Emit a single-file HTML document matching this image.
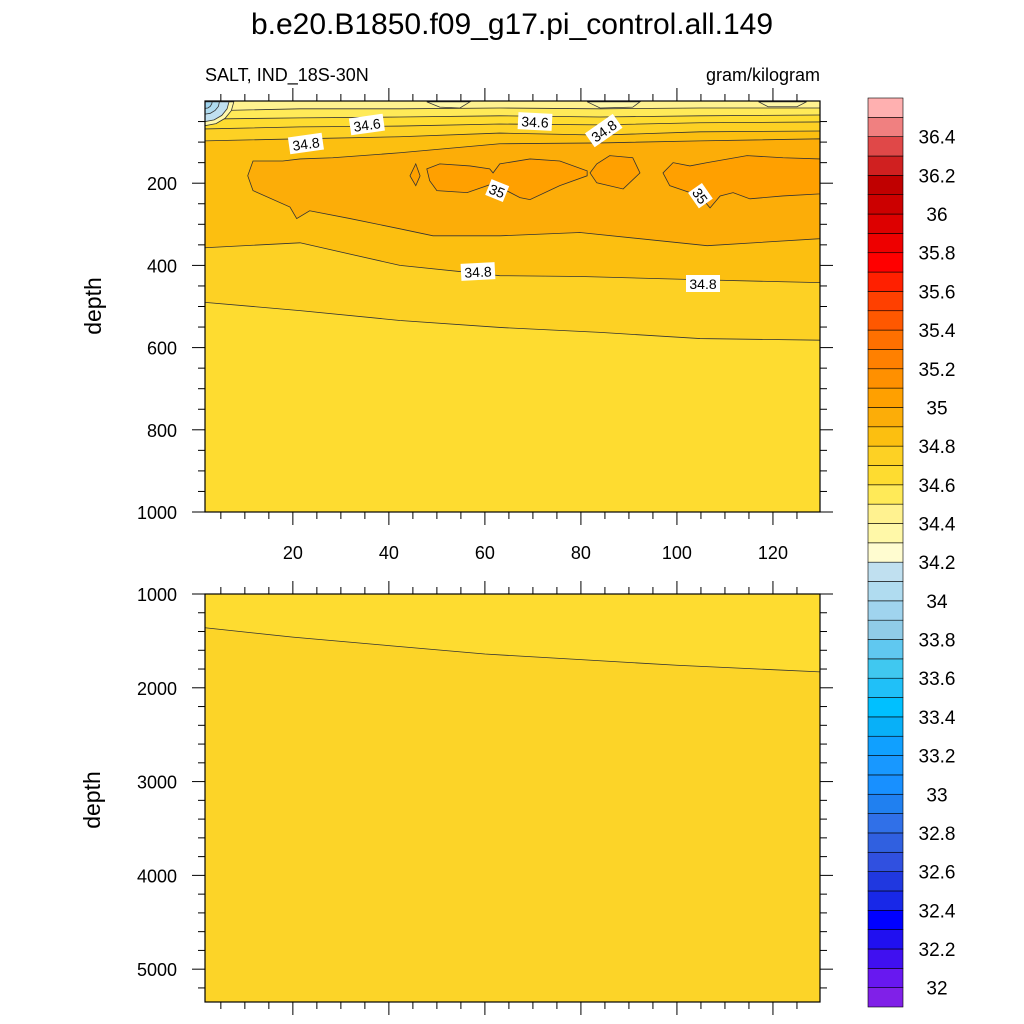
<!DOCTYPE html>
<html><head><meta charset="utf-8"><style>
body{margin:0;background:#fff;}
svg{display:block;font-family:"Liberation Sans",Arial,sans-serif;}
</style></head><body>
<svg id="chart" width="1024" height="1024" viewBox="0 0 1024 1024" xmlns="http://www.w3.org/2000/svg"></svg>
<script>
// ---- data (lon index, depth in m) ----
const levels = [31.9,32.0,32.1,32.2,32.3,32.4,32.5,32.6,32.7,32.8,32.9,33.0,33.1,33.2,33.3,33.4,33.5,33.6,33.7,33.8,33.9,34.0,34.1,34.2,34.3,34.4,34.5,34.6,34.7,34.8,34.9,35.0,35.1,35.2,35.3,35.4,35.5,35.6,35.7,35.8,35.9,36.0,36.1,36.2,36.3,36.4,36.5,36.6];
const levelColors = ["#8020e8","#6818f0","#4010f0","#2010f0","#0000ff","#1828e8","#2038e0","#3050e0","#3060e0","#3070e8","#2080f0","#1890ff","#1898ff","#10a0ff","#08b0f8","#00c0ff","#20c0f8","#40c8f0","#60c8f0","#90cce8","#a0d4ee","#b0dcf0","#c0e0f0","#fffcd0","#fff8a8","#fff290","#ffea58","#fedc30","#fdd124","#fcbf10","#fcad08","#ffa000","#ff9000","#ff8000","#ff7000","#ff5800","#ff4000","#ff2000","#ff0000","#ee0000","#dd0000","#cc0000","#c00000","#d02020","#e04848","#f08080","#ffb0b0"];
const cbLabels = ["32","32.2","32.4","32.6","32.8","33","33.2","33.4","33.6","33.8","34","34.2","34.4","34.6","34.8","35","35.2","35.4","35.6","35.8","36","36.2","36.4"];
const xTicks = [20,40,60,80,100,120];
const yTicksUpper = [200,400,600,800,1000];
const yTicksLower = [1000,2000,3000,4000,5000];

// upper panel: shallow isolines (surface-side), deep isolines
const lonLine = [1.7,21.5,42.3,63.1,84,104.8,129.8];
const shallow345 = [24,19,19,17,19,17,17];
const shallow346 = [44,41,39,36,39,36,34];
const shallow347 = [68,63,61,56,58,53,51];
const shallow348 = [97,92,87,78,83,75,73];
const deep348 = [357,345,400,425,427,435,442];
const deep347 = [490,510,534,551,563,578,582];
const lonDeep348 = [1.7,21.5,42.3,63.1,80,104.8,129.8];
// 34.9 tongue
const tongueLonTop = [10.6,11.7,17.9,21.5,28.3,42.3,63.1,84,104.8,129.8];
const tongueTop = [182,146,146,141,138,126,104,102,97,92];
const tongueLonBot = [129.8,106.3,79.8,63.1,49.2,42.3,31.9,23.5,20.8,19.4,11.7];
const tongueBot = [335,352,320,328,328,311,286,267,286,258,218];
// 35.0 patches
const p1Lon = [44.4,45.6,46.5,45.6];
const p1Dep = [182,153,182,206];
const p2Lon = [47.9,50.6,56.9,61,61.7,63.1,69.4,75.6,81.3,81.3,75.6,69.4,67.3,61.7,56.3,50,48.5];
const p2Dep = [165,153,158,165,175,153,141,146,170,182,206,240,235,201,223,218,194];
const p3Lon = [81.9,83.3,86,90.8,92.3,88.8,83.3];
const p3Dep = [175,153,133,138,175,214,199];
const p4Lon = [97.1,99.2,102.7,106.3,114.6,122.1,129.8,129.8,122.1,115.2,111.7,109,106.9,104.8,98.5];
const p4Dep = [175,150,158,150,133,138,141,226,231,238,223,231,260,231,206];
// surface fresh patches (34.3-34.4)
const sLonA = [47.9,50.6,54.8,56.9];
const sDepA = [2,15,17,2];
const sLonB = [81.3,84,90.8,92.3];
const sDepB = [2,17,15,2];
const sLonC = [117,119,125,127];
const sDepC = [2,14,14,2];
// corner fresh region (quarter-ellipse shapes)
const cornerLon = [[1.7,1.7,4.0,5.9,7.2,7.7],[1.7,1.7,3.6,5.2,6.3,6.7],[1.7,1.7,2.8,3.8,4.5,4.7],[1.7,1.7,2.3,2.8,3.1,3.2]];
const cornerDep = [[2,60,55,42,23,2],[2,50,46,35,19,2],[2,32,30,23,13,2],[2,18,17,13,7,2]];
const cornerLevelIdx = [24,22,21,20];
// lower panel isoline 34.7
const lonLower = [1.7,20,40,60,80,100,129.8];
const lower347 = [1360,1460,1550,1640,1700,1760,1830];

// ---- axes ----
const X0=205,X1=820, LON0=1.7, LON1=129.8;
const UT=101,UB=512, LT=594,LB=1002;
function xs(l){return X0+(l-LON0)*(X1-X0)/(LON1-LON0);}
function yu(d){return UT+d*(UB-UT)/1000;}
function yl(d){return LT+(d-1000)*(LB-LT)/4350;}
const svg=document.getElementById('chart');
const NS="http://www.w3.org/2000/svg";
function mk(tag,attrs,parent){const e=document.createElementNS(NS,tag);for(const k in attrs)e.setAttribute(k,attrs[k]);(parent||svg).appendChild(e);return e;}
function colorOf(lo){return levelColors[levels.findIndex(v=>Math.abs(v-lo)<1e-6)];}

// clip paths
const defs=mk('defs',{});
const cu=mk('clipPath',{id:'cu'},defs);mk('rect',{x:X0,y:UT,width:X1-X0,height:UB-UT},cu);
const cl=mk('clipPath',{id:'cl'},defs);mk('rect',{x:X0,y:LT,width:X1-X0,height:LB-LT},cl);

// ---- upper panel ----
const gU=mk('g',{'clip-path':'url(#cu)'});


mk('rect',{x:X0,y:UT,width:X1-X0,height:UB-UT,fill:colorOf(34.6)},gU);
function bandTo(lons,deps,fill,name,stroke){
  let d='M'+xs(lons[0])+','+UT;
  for(let i=0;i<lons.length;i++)d+=' L'+xs(lons[i])+','+yu(deps[i]);
  d+=' L'+xs(lons[lons.length-1])+','+UT+' Z';
  const p=mk('path',{d:d,fill:fill,stroke:'none'},gU);
  
  
  if(stroke){let l='M'+lons.map((v,i)=>xs(v)+','+yu(deps[i])).join(' L');const q=mk('path',{d:l,fill:'none',stroke:'#333','stroke-width':0.8},gU);}
}
function poly(lons,deps,fill,name,yf){
  const d='M'+lons.map((v,i)=>xs(v)+','+(yf||yu)(deps[i])).join(' L')+' Z';
  const p=mk('path',{d:d,fill:fill,stroke:'#333','stroke-width':0.8},gU);
  
  
}
bandTo(lonLine,deep347,colorOf(34.7),'band-347-348',true);
bandTo(lonDeep348,deep348,colorOf(34.8),'band-348-349',true);
poly(tongueLonTop.concat(tongueLonBot),tongueTop.concat(tongueBot),colorOf(34.9),'tongue-349');
poly(p1Lon,p1Dep,colorOf(35.0),'patch-35-a');
poly(p2Lon,p2Dep,colorOf(35.0),'patch-35-b');
poly(p3Lon,p3Dep,colorOf(35.0),'patch-35-c');
poly(p4Lon,p4Dep,colorOf(35.0),'patch-35-d');
bandTo(lonLine,shallow348,colorOf(34.7),'band-surface-347',true);
bandTo(lonLine,shallow347,colorOf(34.6),'band-surface-346',true);
bandTo(lonLine,shallow346,colorOf(34.5),'band-surface-345',true);
bandTo(lonLine,shallow345,colorOf(34.4),'band-surface-344',true);
poly(sLonA,sDepA,colorOf(34.3),'fresh-patch-a');
poly(sLonB,sDepB,colorOf(34.3),'fresh-patch-b');
poly(sLonC,sDepC,colorOf(34.3),'fresh-patch-c');
for(let i=0;i<cornerLon.length;i++){poly(cornerLon[i],cornerDep[i],levelColors[cornerLevelIdx[i]],'corner-fresh-'+i);}

// contour labels
const labels=[["34.8",306,144,-8],["34.6",367,125,-8],["34.6",535,122,3],["34.8",604,131,-35],["35",497,191,22],["35",700,196,55],["34.8",478,272,-3],["34.8",703,284,0]];
labels.forEach((L,i)=>{
  const g=mk('g',{transform:`translate(${L[1]},${L[2]}) rotate(${L[3]})`});
  
  
  const w=L[0].length*7.5+4;
  mk('rect',{x:-w/2,y:-9,width:w,height:17,fill:'#fff'},g);
  const t=mk('text',{x:0,y:5,'text-anchor':'middle','font-size':14,fill:'#000'},g);t.textContent=L[0];
});

// ---- lower panel ----
const gL=mk('g',{'clip-path':'url(#cl)'});


mk('rect',{x:X0,y:LT,width:X1-X0,height:LB-LT,fill:'#fcd428'},gL);
{let d='M'+xs(lonLower[0])+','+LT;lonLower.forEach((v,i)=>d+=' L'+xs(v)+','+yl(lower347[i]));d+=' L'+xs(lonLower[lonLower.length-1])+','+LT+' Z';
const p=mk('path',{d:d,fill:colorOf(34.6)},gL);
const q=mk('path',{d:'M'+lonLower.map((v,i)=>xs(v)+','+yl(lower347[i])).join(' L'),fill:'none',stroke:'#333','stroke-width':0.8},gL);}

// ---- frames & ticks ----
function frame(top,bot,name){const r=mk('rect',{x:X0,y:top,width:X1-X0,height:bot-top,fill:'none',stroke:'#000','stroke-width':1.2});}
frame(UT,UB,'upper-frame');frame(LT,LB,'lower-frame');
const tk=mk('g',{stroke:'#000','stroke-width':1});

function xt(top,bot){for(let v=5;v<=125;v+=5){const maj=v%20===0;const L=maj?13:7;const x=xs(v);
  mk('line',{x1:x,x2:x,y1:top,y2:top-L},tk);mk('line',{x1:x,x2:x,y1:bot,y2:bot+L},tk);}}
xt(UT,UB);xt(LT,LB);
for(let d=50;d<=1000;d+=50){const maj=d%200===0;const L=maj?13:7;const y=yu(d);mk('line',{x1:X0,x2:X0-L,y1:y,y2:y},tk);mk('line',{x1:X1,x2:X1+L,y1:y,y2:y},tk);}
for(let d=1200;d<=5200;d+=200){const maj=d%1000===0;const L=maj?13:7;const y=yl(d);mk('line',{x1:X0,x2:X0-L,y1:y,y2:y},tk);mk('line',{x1:X1,x2:X1+L,y1:y,y2:y},tk);}
{const y=yl(1000);mk('line',{x1:X0,x2:X0-13,y1:y,y2:y},tk);mk('line',{x1:X1,x2:X1+13,y1:y,y2:y},tk);}
function txt(s,x,y,size,anchor,name,rot){const t=mk('text',{x:x,y:y,'font-size':size,'text-anchor':anchor||'start',fill:'#000'});if(rot)t.setAttribute('transform',`rotate(${rot} ${x} ${y})`);t.textContent=s;return t;}
xTicks.forEach(v=>txt(String(v),xs(v),559,18,'middle','x-tick-'+v));
yTicksUpper.forEach(v=>txt(String(v),177,yu(v)+7,18,'end','y-tick-upper-'+v));
yTicksLower.forEach(v=>txt(String(v),177,yl(v)+7,18,'end','y-tick-lower-'+v));
txt('b.e20.B1850.f09_g17.pi_control.all.149',512,34,30,'middle','chart-title');
txt('SALT, IND_18S-30N',205,81,18,'start','variable-label');
txt('gram/kilogram',820,81,18,'end','units-label');
txt('depth',101,306,23,'middle','y-axis-title-upper',-90);
txt('depth',100,800,23,'middle','y-axis-title-lower',-90);

// ---- colorbar ----
const CBX=868,CBW=35,CBT=98,CBB=1007;
const bh=(CBB-CBT)/levelColors.length;
const gc=mk('g',{});
levelColors.forEach((c,i)=>{const y=CBB-(i+1)*bh;const r=mk('rect',{x:CBX,y:y,width:CBW,height:bh,fill:c,stroke:'#000','stroke-width':0.6},gc);});
cbLabels.forEach((s,i)=>{const v=parseFloat(s);const y=CBB-(v-levels[0])/0.1*bh;txt(s,937,y+7,19,'middle','colorbar-label-'+s);});
</script>
</body></html>
